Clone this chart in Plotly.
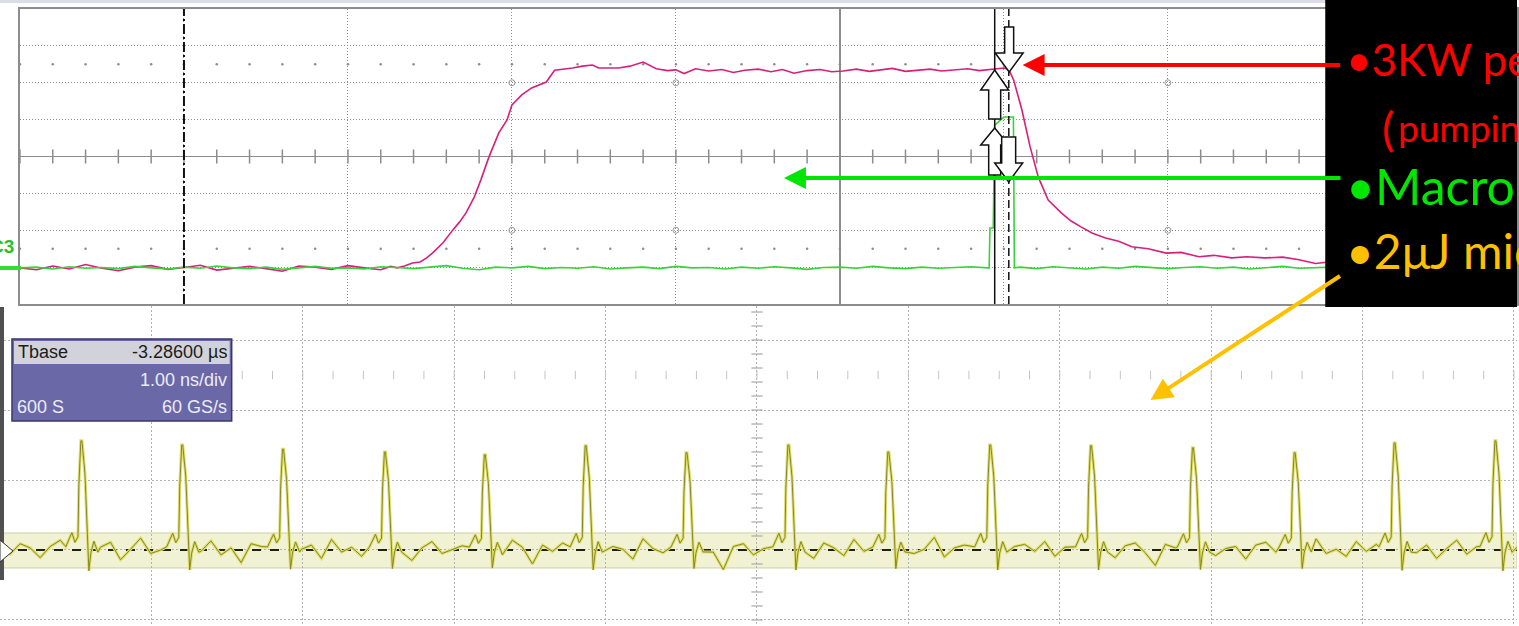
import numpy as np
import plotly.graph_objects as go

W, H = 1519, 626


def X(px):
    return px / W


def Y(py):
    return 1 - py / H


# ---------------- upper scope screen (x, y in divisions) ----------------
pink_x = [-5.0, -4.9, -4.8, -4.7, -4.6, -4.5, -4.4, -4.3, -4.2, -4.1, -4.0, -3.9,
          -3.8, -3.7, -3.6, -3.5, -3.4, -3.3, -3.2, -3.1, -3.0, -2.9, -2.8, -2.74,
          -2.70, -2.655, -2.607, -2.56, -2.52, -2.485, -2.42, -2.36, -2.32, -2.28,
          -2.23, -2.19, -2.14, -2.08, -2.03, -2.0, -1.94, -1.88, -1.79, -1.74,
          -1.68, -1.63, -1.57, -1.51, -1.47, -1.43,
          -1.35, -1.28, -1.2, -1.12, -1.05, -1.0, -0.95, -0.88, -0.8, -0.72, -0.65,
          -0.58, -0.5, -0.42, -0.35, -0.28, -0.2, -0.12, -0.05, 0.02, 0.1, 0.18,
          0.25, 0.32, 0.4, 0.48, 0.55, 0.62, 0.7, 0.78, 0.85, 0.92, 0.97,
          1.0, 1.03, 1.06, 1.11, 1.16, 1.21, 1.27, 1.35, 1.41, 1.47, 1.54, 1.62,
          1.7, 1.78, 1.88, 1.99, 2.08, 2.19, 2.28, 2.39, 2.48, 2.59, 2.7, 2.8,
          2.9, 2.98, 3.1]
pink_y = [-3.02, -3.07, -2.97, -3.05, -2.93, -3.03, -3.1, -3.0, -2.96, -3.06, -3.01,
          -2.95, -3.08, -3.03, -2.98, -3.04, -3.11, -2.97, -3.0, -3.06, -2.96, -3.02,
          -3.07, -2.98,
          -3.02, -2.97, -2.89, -2.86, -2.75, -2.62, -2.34, -1.99, -1.78, -1.53,
          -1.10, -0.64, -0.01, 0.64, 0.99, 1.40, 1.67, 1.86, 2.02, 2.34, 2.37,
          2.40, 2.45, 2.48, 2.40, 2.40,
          2.40, 2.45, 2.56, 2.38, 2.33, 2.35, 2.25, 2.38, 2.32, 2.36, 2.28, 2.34,
          2.37, 2.30, 2.36, 2.26, 2.33, 2.36, 2.30, 2.32, 2.37, 2.31, 2.35, 2.39,
          2.31, 2.35, 2.37, 2.32, 2.35, 2.38, 2.33, 2.37, 2.40,
          2.40, 2.36, 2.07, 1.26, 0.26, -0.56, -1.18, -1.53, -1.75, -1.91, -2.08,
          -2.21, -2.30, -2.45, -2.50, -2.62, -2.60, -2.72, -2.68, -2.75, -2.72,
          -2.75, -2.73, -2.80, -2.90, -2.86, -2.86]

green_x_base = [round(v, 2) for v in np.arange(-5.0, 0.95, 0.1)]
green_y_base = [-3.02, -3.0, -3.05, -2.99, -3.03, -3.01, -3.04, -2.98, -3.02, -3.05,
                -3.0, -3.03, -2.97, -3.02, -3.04, -3.0, -3.06, -3.01, -2.98, -3.03,
                -3.02, -3.05, -2.99, -3.01, -3.04, -3.0, -2.96, -3.03, -3.07, -3.0,
                -3.02, -2.98, -3.04, -3.01, -3.03, -2.99, -3.05, -3.02, -3.0, -3.04,
                -2.98, -3.02, -3.01, -3.05, -3.0, -3.03, -2.99, -3.02, -3.06, -3.01,
                -3.0, -3.03, -2.98, -3.02, -3.04, -3.0, -3.03, -3.01, -2.99, -3.02]
green_x_pulse = [0.91, 0.915, 0.935, 0.944, 1.0, 1.058, 1.064]
green_y_pulse = [-3.02, -1.94, -1.94, 0.85, 1.07, 1.07, -3.02]
green_x_tail = [round(v, 2) for v in np.arange(1.1, 3.15, 0.1)]
green_y_tail = [-3.0, -3.04, -2.99, -3.02, -3.05, -3.0, -3.03, -2.98, -3.02, -3.04,
                -3.01, -2.99, -3.03, -3.0, -3.05, -3.02, -2.98, -3.03, -3.01, -3.0, -3.02]

# ---------------- lower scope screen (ns, divisions) ----------------
peak_t = [-4.459, -3.793, -3.127, -2.454, -1.794, -1.128, -0.462, 0.211, 0.871,
          1.544, 2.210, 2.883, 3.555, 4.215, 4.881]
peak_h = [1.56, 1.50, 1.44, 1.40, 1.36, 1.49, 1.39, 1.50, 1.40, 1.50, 1.49, 1.46,
          1.39, 1.53, 1.56]
pulse_dt = [-0.106, -0.066, -0.046, -0.026, -0.02, -0.007, 0.0, 0.007, 0.02, 0.026,
            0.033, 0.04, 0.046, 0.059, 0.079, 0.106]
pulse_frac = [0.03, 0.16, 0.07, 0.12, 0.6, 1.0, 1.0, 0.9, 0.7, 0.5, 0.2, -0.07,
              -0.19, -0.03, 0.08, -0.02]
base_y = [0.02, -0.06, 0.09, 0.03, -0.11, 0.05, 0.14, -0.03, 0.08, -0.09,
          0.04, 0.11, -0.14, 0.01, 0.17, -0.05, 0.0, 0.08, -0.1, 0.06,
          -0.02, 0.13, -0.07, 0.03, -0.18, 0.09, 0.05, -0.04, 0.12, -0.08,
          0.01, 0.07, -0.12, 0.15, -0.03, 0.04, -0.09, 0.1, 0.02, -0.06,
          0.08, -0.15, 0.03, 0.12, -0.05, 0.0, 0.06, -0.11, 0.09, 0.02,
          -0.07, 0.14, 0.04, -0.2, 0.07, -0.02, 0.1, -0.06, 0.03, 0.11,
          -0.09, 0.05, 0.01, -0.13, 0.16, 0.02, -0.04, 0.08, -0.1, 0.06,
          0.12, -0.03, -0.28, 0.05, 0.09, -0.07, 0.02, 0.13, -0.05, 0.0,
          0.07, -0.12, 0.1, 0.03, -0.08, 0.15, -0.02, 0.06, -0.14, 0.04,
          0.09, -0.05, 0.01, 0.18, -0.1, 0.03, 0.07, -0.06, 0.11, -0.03,
          -0.16, 0.05, 0.08, -0.02, 0.12, -0.09, 0.04, 0.0, -0.07, 0.13,
          0.02, -0.11, 0.06, 0.1, -0.04, -0.22, 0.08, 0.03, -0.06, 0.09,
          0.14, -0.08, 0.02, 0.05, -0.13, 0.07, 0.11, -0.03, 0.04, -0.1,
          0.06, 0.16, -0.05, 0.01, -0.09, 0.12, -0.02, 0.08, -0.15, 0.03,
          0.1, -0.04, 0.07, -0.12, 0.02, 0.14, -0.06, 0.05, -0.01, 0.09,
          -0.08, 0.04]
base_t = np.linspace(-5.0, 5.02, len(base_y))

# ---------------- build lower trace ----------------
pts = []
for t, v in zip(base_t, base_y):
    if min(abs(t - p) for p in peak_t) > 0.11:
        pts.append((t, v))
for p, h in zip(peak_t, peak_h):
    for dt, f in zip(pulse_dt, pulse_frac):
        pts.append((p + dt, f * h))
pts.sort()
bot_t = [a for a, b in pts]
bot_v = [b for a, b in pts]

fig = go.Figure()

# upper grid decorations
GRID = "#8c8c8c"
tx = np.round(np.arange(-5.0, 4.2, 0.2), 2)
fig.add_trace(go.Scatter(x=tx, y=[0] * len(tx), mode="markers", xaxis="x", yaxis="y",
                         marker=dict(symbol="line-ns-open", size=10, color=GRID,
                                     line=dict(color=GRID, width=1.5))))
fig.add_trace(go.Scatter(x=list(tx) * 2, y=[2.5] * len(tx) + [-2.5] * len(tx),
                         mode="markers", xaxis="x", yaxis="y",
                         marker=dict(symbol="circle", size=2.5, color=GRID,
                                     line=dict(width=0))))
fig.add_trace(go.Scatter(x=[-2, -1, 2, -2, -1, 2], y=[2, 2, 2, -2, -2, -2],
                         mode="markers", xaxis="x", yaxis="y",
                         marker=dict(symbol="circle-open", size=6, color="#9a9a9a",
                                     line=dict(color="#9a9a9a", width=1))))

# upper traces
fig.add_trace(go.Scatter(x=pink_x, y=pink_y, mode="lines",
                         line=dict(color="#d6207a", width=1.6), xaxis="x", yaxis="y"))
fig.add_trace(go.Scatter(x=green_x_base + green_x_pulse + green_x_tail,
                         y=green_y_base + green_y_pulse + green_y_tail, mode="lines",
                         line=dict(color="#3ad23a", width=1.6), xaxis="x", yaxis="y"))

# lower grid decorations
by = np.round(np.arange(-1.0, 3.5, 0.2), 2)
fig.add_trace(go.Scatter(x=[0] * len(by), y=by, mode="markers", xaxis="x2", yaxis="y2",
                         marker=dict(symbol="line-ew-open", size=8, color="#a8a8a8",
                                     line=dict(color="#a8a8a8", width=1.2))))
bx = np.round(np.arange(-5.0, 5.05, 0.2), 2)
fig.add_trace(go.Scatter(x=bx, y=[2.5] * len(bx), mode="markers", xaxis="x2", yaxis="y2",
                         marker=dict(symbol="line-ns-open", size=6, color="#c4c4c4",
                                     line=dict(color="#c4c4c4", width=1))))

# lower traces
fig.add_trace(go.Scatter(x=[-5.0, 5.02], y=[0, 0], mode="lines", xaxis="x2", yaxis="y2",
                         line=dict(color="#202010", width=2, dash="9px,9px")))
fig.add_trace(go.Scatter(x=bot_t, y=bot_v, mode="lines", xaxis="x2", yaxis="y2",
                         line=dict(color="#dede74", width=3)))
fig.add_trace(go.Scatter(x=bot_t, y=bot_v, mode="lines", xaxis="x2", yaxis="y2",
                         line=dict(color="#8a8a18", width=1)))

shapes = []
# light strip at very top
shapes.append(dict(type="rect", xref="paper", yref="paper", x0=0, x1=1, y0=Y(3), y1=1,
                   fillcolor="#dcdce8", line=dict(width=0), layer="below"))
# yellow band
shapes.append(dict(type="rect", xref="x2", yref="y2", x0=-5.0, x1=5.02, y0=-0.257, y1=0.243,
                   fillcolor="#f1f1d4", line=dict(color="#cfcfa6", width=1), layer="below"))
# cursors
shapes.append(dict(type="line", xref="x", yref="y", x0=-4, x1=-4, y0=-4, y1=4,
                   line=dict(color="#111", width=2, dash="10px,3px,2px,3px")))
shapes.append(dict(type="line", xref="x", yref="y", x0=0.944, x1=0.944, y0=-4, y1=4,
                   line=dict(color="#111", width=1.5)))
shapes.append(dict(type="line", xref="x", yref="y", x0=1.03, x1=1.03, y0=-4, y1=4,
                   line=dict(color="#111", width=1.5, dash="8px,4px")))
# green channel marker at left
shapes.append(dict(type="line", xref="paper", yref="paper", x0=0, x1=X(21), y0=Y(268), y1=Y(268),
                   line=dict(color="#33dd33", width=4)))


def poly(points):
    return "M " + " L ".join(f"{X(a):.5f},{Y(b):.5f}" for a, b in points) + " Z"


def down_arrow(cx, top, stem_bot, tip, sw, hw):
    return poly([(cx - sw, top), (cx + sw, top), (cx + sw, stem_bot), (cx + hw, stem_bot),
                 (cx, tip), (cx - hw, stem_bot), (cx - sw, stem_bot)])


def up_arrow(cx, tip, head_base, bottom, sw, hw):
    return poly([(cx, tip), (cx + hw, head_base), (cx + sw, head_base), (cx + sw, bottom),
                 (cx - sw, bottom), (cx - sw, head_base), (cx - hw, head_base)])


for pth in [down_arrow(1010.5, 27, 53, 72, 4.5, 14),
            up_arrow(996, 70, 90, 119, 6, 14),
            up_arrow(996, 128, 145, 175, 6, 14),
            down_arrow(1010, 137, 163, 182, 7, 14)]:
    shapes.append(dict(type="path", xref="paper", yref="paper", path=pth,
                       fillcolor="white", line=dict(color="#111", width=1.5), layer="above"))

# left edge strip of lower screen + trigger marker
shapes.append(dict(type="rect", xref="paper", yref="paper", x0=0, x1=X(4), y0=Y(580), y1=Y(307),
                   fillcolor="#505050", line=dict(width=0), layer="above"))
shapes.append(dict(type="path", xref="paper", yref="paper",
                   path=poly([(0, 540), (13, 551), (0, 562)]),
                   fillcolor="white", line=dict(color="#333", width=1), layer="above"))

# Tbase box
shapes.append(dict(type="rect", xref="paper", yref="paper", x0=X(12), x1=X(232), y0=Y(421), y1=Y(339),
                   fillcolor="#6b68a8", line=dict(color="#3a3868", width=1.5), layer="above"))
shapes.append(dict(type="rect", xref="paper", yref="paper", x0=X(14), x1=X(230), y0=Y(364), y1=Y(341),
                   fillcolor="#d2d2da", line=dict(width=0), layer="above"))

# black legend box
shapes.append(dict(type="rect", xref="paper", yref="paper", x0=X(1327), x1=1.0, y0=Y(307), y1=1.0,
                   fillcolor="black", line=dict(width=0), layer="above"))

annotations = []


def txt(x, y, s, size, color, anchor="left", family="Liberation Sans"):
    annotations.append(dict(xref="paper", yref="paper", x=X(x), y=Y(y), text=s,
                            showarrow=False, xanchor=anchor, yanchor="middle",
                            font=dict(family=family, size=size, color=color)))


txt(16, 246, "<b>C3</b>", 19, "#2cbf2c", anchor="right")

# Tbase box text
txt(16, 352, "Tbase", 18, "#1c1c1c")
txt(229, 352, "-3.28600 µs", 18, "#1c1c1c", anchor="right")
txt(229, 380, "1.00 ns/div", 18, "#ececf6", anchor="right")
txt(15, 407, "600 S", 18, "#ececf6")
txt(229, 407, "60 GS/s", 18, "#ececf6", anchor="right")

# arrows
for tip, dx, dy, col in [((1024, 65), 319, 0, "#ff0000"),
                         ((785, 178), 558, 0, "#00e600"),
                         ((1152, 400), 191, -125, "#ffc000")]:
    annotations.append(dict(xref="paper", yref="paper", x=X(tip[0]), y=Y(tip[1]),
                            ax=dx, ay=dy, text="", showarrow=True, arrowhead=2,
                            arrowsize=1.1, arrowwidth=4, arrowcolor=col, standoff=0))

# legend texts (cut by the right edge as in the slide)
txt(1346, 59, "•3KW peak power", 44, "#ff0000", family="Lato")
txt(1382, 128, "(", 46, "#ff0000", family="Lato")
txt(1398, 127, "pumping laser)", 37, "#ff0000", family="Lato")
txt(1346, 186, "•Macro pulse", 50, "#00e600", family="Lato")
txt(1346, 251, "•2μJ micro pulse", 48, "#ffc000", family="Lato")

grid_top = dict(showgrid=True, gridcolor="#8e8e8e", griddash="1px,2px", gridwidth=1,
                showticklabels=False, ticks="", dtick=1, tick0=0, fixedrange=True)
grid_bot = dict(showgrid=True, gridcolor="#b2b2b2", griddash="2px,2px", gridwidth=1,
                showticklabels=False, ticks="", dtick=1, tick0=0, zeroline=False,
                showline=False, fixedrange=True)

fig.update_layout(
    width=W, height=H, margin=dict(l=0, r=0, t=0, b=0),
    paper_bgcolor="white", plot_bgcolor="rgba(0,0,0,0)",
    showlegend=False, hovermode=False,
    xaxis=dict(domain=[X(20), 1.0], range=[-5.0, 4.129], anchor="y",
               zeroline=True, zerolinecolor="#8c8c8c", zerolinewidth=1.5,
               showline=True, linecolor="#8c8c8c", linewidth=2, mirror=True, **grid_top),
    yaxis=dict(domain=[Y(304), Y(9)], range=[-4, 4], anchor="x",
               zeroline=True, zerolinecolor="#8c8c8c", zerolinewidth=1.5,
               showline=True, linecolor="#8c8c8c", linewidth=2, mirror=True, **grid_top),
    xaxis2=dict(domain=[0, 1], range=[-5.0, 5.02], anchor="y2", **grid_bot),
    yaxis2=dict(domain=[0, Y(306)], range=[-1.086, 3.486], anchor="x2", **grid_bot),
    shapes=shapes, annotations=annotations,
)

fig.write_html("out.html", config={"displayModeBar": False, "staticPlot": True},
               post_script="document.body.style.margin='0';document.body.style.overflow='hidden';")
